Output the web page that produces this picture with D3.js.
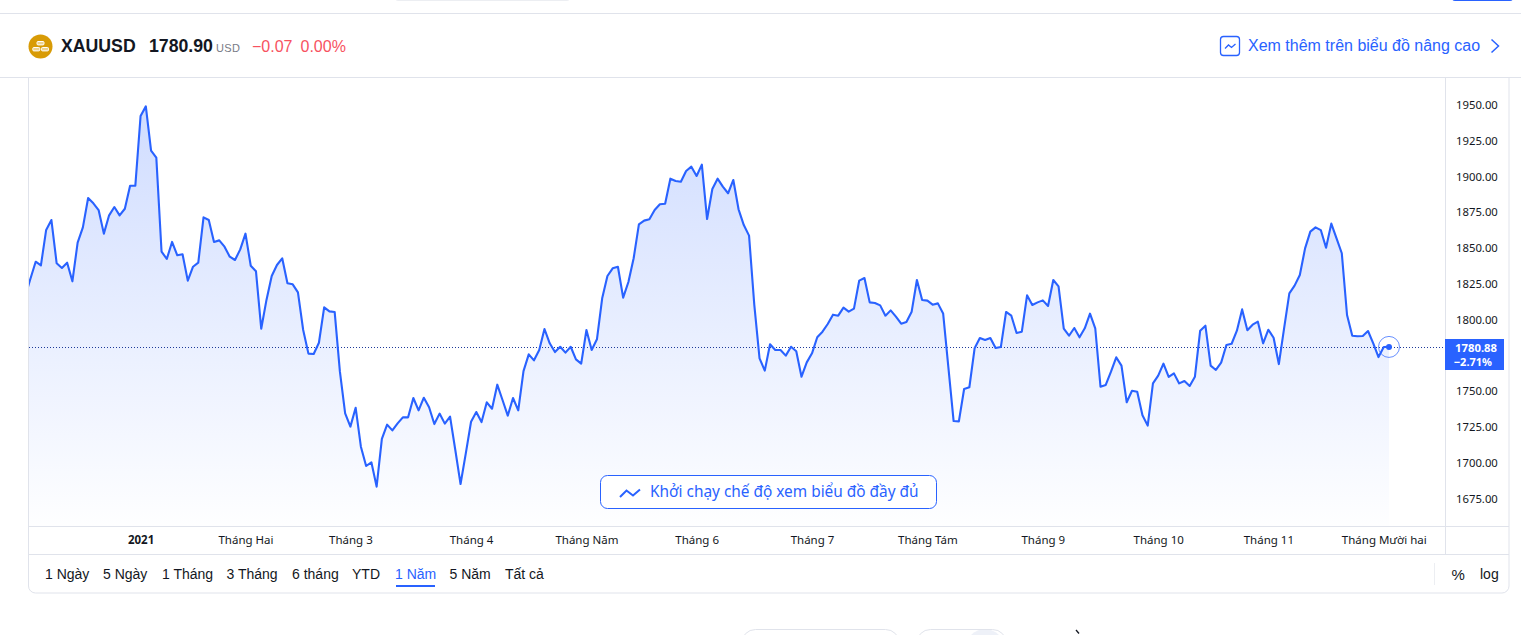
<!DOCTYPE html>
<html>
<head>
<meta charset="utf-8">
<title>XAUUSD</title>
<script src="https://cdn.jsdelivr.net/npm/d3@7"></script>
<style>
  html, body { margin: 0; padding: 0; background: #fff; overflow: hidden; }
  text { font-family: "Liberation Sans", Arial, sans-serif; }
  .soft text, text.soft { font-family: "Noto Sans", sans-serif; }
</style>
</head>
<body>
<svg id="chart" width="1521" height="635"></svg>
<script>
// gia dong cua, doc tu hinh (diem dau tien nam ngoai khung, bi cat)
var closes = [
  1816.0,1828.5,1840.4,1837.9,1862.6,1869.5,1839.3,1836.0,1839.7,1826.7,1853.7,
  1864.4,1884.9,1881.2,1876.5,1860.0,1872.8,1878.6,1872.8,1877.4,1893.5,
  1893.5,1942.2,1948.9,1918.0,1913.1,1847.4,1842.3,1854.2,1844.9,1845.6,
  1827.2,1836.9,1839.7,1871.4,1869.5,1854.2,1855.3,1850.9,1843.9,1841.6,
  1849.0,1860.0,1837.6,1833.7,1793.6,1813.7,1830.4,1838.1,1842.8,1825.3,
  1824.6,1819.0,1792.7,1776.2,1775.9,1783.8,1808.5,1805.7,1805.3,1763.6,
  1734.5,1725.2,1738.4,1711.2,1697.7,1700.3,1683.3,1716.6,1726.6,1722.6,
  1727.5,1731.7,1731.7,1745.2,1736.6,1745.4,1738.7,1727.0,1734.3,1727.3,
  1732.2,1708.9,1685.1,1706.5,1728.6,1735.4,1728.4,1742.2,1737.7,1754.5,
  1743.8,1732.9,1745.2,1736.6,1764.0,1775.7,1771.5,1778.7,1793.4,1783.4,
  1777.3,1781.0,1776.9,1781.0,1772.2,1769.2,1792.7,1778.7,1786.2,1814.8,
  1830.4,1835.8,1836.9,1815.3,1826.2,1842.8,1866.5,1869.1,1870.0,1876.5,
  1880.5,1880.9,1898.4,1896.8,1896.3,1903.8,1906.8,1900.3,1908.2,1870.2,
  1891.2,1898.4,1892.8,1888.2,1897.5,1877.0,1866.0,1858.6,1810.2,1772.9,
  1764.3,1782.7,1778.7,1778.7,1774.8,1781.0,1777.8,1760.1,1770.1,1776.4,
  1787.6,1791.5,1796.9,1803.4,1802.7,1808.3,1805.5,1807.6,1827.2,1829.0,
  1812.0,1811.6,1809.9,1802.7,1806.4,1802.0,1797.1,1798.3,1805.5,1827.6,
  1813.7,1813.2,1810.4,1811.3,1804.3,1766.6,1729.1,1728.9,1751.5,1752.7,
  1779.9,1787.1,1785.7,1787.1,1780.1,1780.8,1805.3,1802.7,1790.6,1791.5,
  1816.9,1810.2,1812.0,1813.4,1809.5,1827.6,1823.2,1793.6,1788.7,1794.1,
  1787.6,1793.9,1804.1,1793.9,1753.1,1754.3,1763.6,1773.6,1767.8,1742.2,
  1750.3,1749.6,1733.1,1725.9,1755.4,1760.8,1769.2,1759.9,1762.4,1755.4,
  1757.1,1753.6,1760.1,1792.2,1795.7,1767.8,1764.8,1769.9,1782.2,1783.1,
  1792.2,1807.1,1792.5,1796.4,1798.5,1783.4,1792.9,1787.3,1768.9,1793.9,
  1818.3,1823.7,1831.1,1849.7,1861.4,1864.4,1862.5,1850.2,1867.0,1856.7,
  1846.3,1803.2,1788.7,1788.3,1788.5,1792.0,1783.4,1773.8,1780.8,1780.88
];
var priceTicks = [1675,1700,1725,1750,1800,1825,1850,1875,1900,1925,1950];
var monthLabels = ["2021","Tháng Hai","Tháng 3","Tháng 4","Tháng Năm","Tháng 6","Tháng 7","Tháng Tám","Tháng 9","Tháng 10","Tháng 11","Tháng Mười hai"];
var monthIndex = [22,42,62,85,107,128,150,172,194,216,237,259];
var rangeTabs = ["1 Ngày","5 Ngày","1 Tháng","3 Tháng","6 tháng","YTD","1 Năm","5 Năm","Tất cả"];
var rangeTabX = [45,103,162,226.5,292,352,395,449.5,505];

var blue = "#2962ff", border = "#e0e3eb", ink = "#131722";
var svg = d3.select("#chart");

var x = d3.scaleLinear().domain([0, closes.length - 1]).range([25.18, 1389]);
var y = d3.scaleLinear().domain([1675, 1950]).range([498.5, 104.8]);
var lastClose = closes[closes.length - 1];
var lastY = Math.round(y(lastClose)) + 0.5;

var defs = svg.append("defs");
// mau nen vung
var grad = defs.append("linearGradient")
  .attr("id", "areaFill").attr("gradientUnits", "userSpaceOnUse")
  .attr("x1", 0).attr("x2", 0).attr("y1", 105).attr("y2", 526);
grad.append("stop").attr("offset", 0).attr("stop-color", blue).attr("stop-opacity", 0.22);
grad.append("stop").attr("offset", 1).attr("stop-color", blue).attr("stop-opacity", 0.005);
defs.append("clipPath").attr("id", "plotClip").append("rect")
  .attr("x", 29).attr("y", 78).attr("width", 1416).attr("height", 448);

var plot = svg.append("g").attr("clip-path", "url(#plotClip)");
var area = d3.area().x(function(d, i) { return x(i); }).y0(526).y1(function(d) { return y(d); });
var line = d3.line().x(function(d, i) { return x(i); }).y(function(d) { return y(d); });

plot.append("path").attr("d", area(closes)).attr("fill", "url(#areaFill)");

// khung
function hline(y0, x0, x1) {
  svg.append("line").attr("x1", x0).attr("x2", x1).attr("y1", y0).attr("y2", y0).attr("stroke", border);
}
hline(13.5, 0, 1521);
hline(77.5, 0, 1521);
hline(526.5, 28, 1509);
hline(554.5, 28, 1509);
svg.append("path")
  .attr("d", "M28.5,77V586a7,7 0 0 0 7,7H1502a7,7 0 0 0 7,-7V77")
  .attr("fill", "none").attr("stroke", border);
svg.append("line").attr("x1", 1445.5).attr("x2", 1445.5).attr("y1", 77).attr("y2", 554).attr("stroke", border);
svg.append("line").attr("x1", 1434.5).attr("x2", 1434.5).attr("y1", 563).attr("y2", 585).attr("stroke", "#eceef2");

// duong gia hien tai
plot.append("line").attr("x1", 29).attr("x2", 1445).attr("y1", lastY).attr("y2", lastY)
  .attr("stroke", "#1e3a9a").attr("stroke-width", 1).attr("stroke-dasharray", "1 2");

plot.append("path").attr("d", line(closes))
  .attr("fill", "none").attr("stroke", blue).attr("stroke-width", 2.1).attr("stroke-linejoin", "round");

svg.append("circle").attr("cx", x(closes.length - 1)).attr("cy", y(lastClose)).attr("r", 10.5)
  .attr("fill", "none").attr("stroke", blue).attr("stroke-opacity", 0.7);
svg.append("circle").attr("cx", x(closes.length - 1)).attr("cy", y(lastClose)).attr("r", 3).attr("fill", blue);

// truc gia
var yAxis = svg.append("g").attr("class", "soft").attr("transform", "translate(1445,0)")
  .call(d3.axisRight(y).tickValues(priceTicks).tickSize(0).tickPadding(11).tickFormat(d3.format(".2f")));
yAxis.select(".domain").remove();
yAxis.selectAll("text").attr("font-size", 11.3).attr("fill", ink).style("font-family", "'Noto Sans',sans-serif");

// nhan gia cuoi
svg.append("rect").attr("x", 1445).attr("y", 339).attr("width", 59).attr("height", 31).attr("fill", blue);
svg.append("text").attr("class", "soft").attr("x", 1497).attr("y", 351.5).attr("text-anchor", "end")
  .attr("font-size", 11.3).attr("font-weight", 700).attr("fill", "#fff").text(d3.format(".2f")(lastClose));
svg.append("text").attr("class", "soft").attr("x", 1492).attr("y", 366).attr("text-anchor", "end")
  .attr("font-size", 11).attr("font-weight", 700).attr("fill", "#fff").text("−2.71%");

// truc thang
var xAxis = svg.append("g").attr("transform", "translate(0,526)")
  .call(d3.axisBottom(x).tickValues(monthIndex).tickSize(0).tickPadding(9.5)
    .tickFormat(function(d, i) { return monthLabels[i]; }));
xAxis.select(".domain").remove();
xAxis.selectAll("text").attr("font-size", 11.5).attr("fill", ink).style("font-family", "'Noto Sans',sans-serif")
  .attr("font-weight", function(d, i) { return i === 0 ? 700 : 400; });

// header
svg.append("circle").attr("cx", 40.5).attr("cy", 46.5).attr("r", 12).attr("fill", "#d89b06");
[[37, 41.5], [32.8, 47.5], [41.5, 47.5]].forEach(function(p) {
  svg.append("rect").attr("x", p[0]).attr("y", p[1]).attr("width", 7).attr("height", 3.4).attr("rx", 1)
    .attr("fill", "#fff").attr("fill-opacity", 0.55).attr("stroke", "#fff").attr("stroke-width", 1);
});
svg.append("text").attr("x", 61).attr("y", 52).attr("font-size", 17.7).attr("font-weight", 700).attr("fill", ink).text("XAUUSD");
svg.append("text").attr("x", 149).attr("y", 52).attr("font-size", 17.7).attr("font-weight", 700).attr("fill", ink).text("1780.90");
svg.append("text").attr("x", 216).attr("y", 52).attr("font-size", 11).attr("letter-spacing", 0.4).attr("fill", "#787b86").text("USD");
svg.append("text").attr("x", 252).attr("y", 52).attr("font-size", 16).attr("fill", "#f7525f").text("−0.07");
svg.append("text").attr("x", 300.5).attr("y", 52).attr("font-size", 16).attr("fill", "#f7525f").text("0.00%");

svg.append("rect").attr("x", 1220.5).attr("y", 36.5).attr("width", 19).attr("height", 19).attr("rx", 3)
  .attr("fill", "none").attr("stroke", blue).attr("stroke-width", 1.3);
svg.append("path").attr("d", "M1225,48.5l3.5,-3.5l3,2.5l4,-3.5").attr("fill", "none").attr("stroke", blue).attr("stroke-width", 1.3);
svg.append("text").attr("x", 1248).attr("y", 51).attr("font-size", 16).attr("fill", blue).text("Xem thêm trên biểu đồ nâng cao");
svg.append("path").attr("d", "M1491.5,39.5l7,6.5l-7,6.5").attr("fill", "none").attr("stroke", blue).attr("stroke-width", 1.5);

// nut giua
svg.append("rect").attr("x", 600.5).attr("y", 475.5).attr("width", 336).attr("height", 33).attr("rx", 7)
  .attr("fill", "#fff").attr("stroke", blue);
svg.append("path").attr("d", "M620,497l6.5,-6.5l6.5,5l7,-6").attr("fill", "none").attr("stroke", blue).attr("stroke-width", 2);
svg.append("text").attr("class", "soft").attr("x", 650).attr("y", 497).attr("font-size", 15.4).attr("fill", blue)
  .text("Khởi chạy chế độ xem biểu đồ đầy đủ");

// tab khoang thoi gian
svg.selectAll(".tab").data(rangeTabs).enter().append("text").attr("class", "tab")
  .attr("x", function(d, i) { return rangeTabX[i]; }).attr("y", 579).attr("font-size", 14)
  .attr("fill", function(d) { return d === "1 Năm" ? blue : ink; }).text(function(d) { return d; });
svg.append("rect").attr("x", 396).attr("y", 585).attr("width", 39).attr("height", 2).attr("fill", blue);
svg.append("text").attr("x", 1451.5).attr("y", 580).attr("font-size", 15).attr("fill", ink).text("%");
svg.append("text").attr("x", 1480).attr("y", 579).attr("font-size", 14).attr("fill", ink).text("log");

// phan trang bi cat o mep
svg.append("rect").attr("x", 1452).attr("y", -6).attr("width", 61).attr("height", 7).attr("rx", 3).attr("fill", blue);
svg.append("rect").attr("x", 395).attr("y", -6).attr("width", 175).attr("height", 6.5).attr("rx", 3).attr("fill", "#fff").attr("stroke", "#eceef2");
svg.append("circle").attr("cx", 985).attr("cy", 648).attr("r", 19).attr("fill", "#eef1f8");
svg.append("rect").attr("x", 741.5).attr("y", 629.5).attr("width", 158).attr("height", 30).attr("rx", 14).attr("fill", "#fff").attr("stroke", border);
svg.append("rect").attr("x", 916.5).attr("y", 629.5).attr("width", 90).attr("height", 30).attr("rx", 14).attr("fill", "none").attr("stroke", border);
svg.append("path").attr("d", "M1076,630l3,3.5").attr("stroke", ink).attr("stroke-width", 1.3).attr("fill", "none");
</script>
</body>
</html>
